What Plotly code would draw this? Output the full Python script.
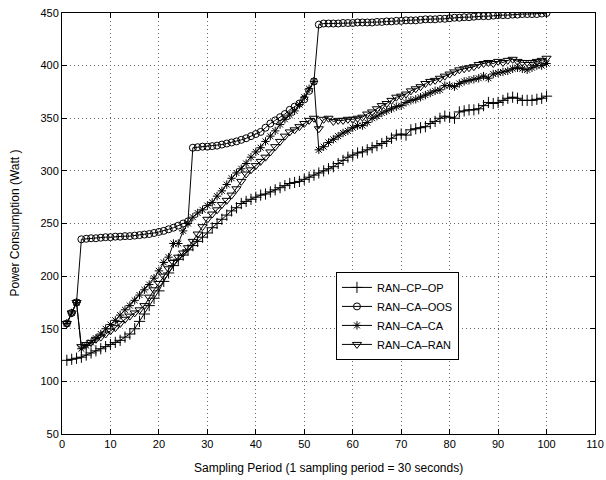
import plotly.graph_objects as go

periods = list(range(1, 101))

ran_cp_op = [120, 121, 122, 123, 125, 127, 129, 131, 133, 135,
             137, 139, 142, 145, 150, 157, 164, 172, 179, 186,
             195, 203, 210, 216, 220, 225, 229, 233, 237, 241,
             246, 250, 254, 258, 262, 265, 269, 271, 273, 275,
             277, 278, 280, 282, 284, 286, 288, 289, 290, 292,
             294, 296, 298, 300, 302, 304, 307, 310, 313, 315,
             317, 318, 320, 322, 324, 326, 328, 331, 334, 335,
             334, 339, 340, 341, 342, 345, 347, 350, 352, 351,
             350, 356, 357, 358, 358, 359, 362, 365, 364, 365,
             367, 369, 370, 369, 367, 367, 367, 368, 369, 371]

ran_ca_oos = [155, 165, 175, 235, 235.5, 236, 236, 236.5, 237, 237,
              237.5, 237.5, 238, 238, 238.5, 239, 239.5, 240, 241, 242,
              243, 244.5, 246, 248, 250, 252, 322, 322.5, 323, 323,
              323.5, 324, 325, 326, 327, 328, 329.5, 331, 333, 335,
              337, 341, 345, 348, 351, 354, 358, 361, 364, 368,
              376, 385, 439, 440, 440, 440, 440, 440.5, 440.5, 440.5,
              441, 441, 441, 441, 441.5, 441.5, 442, 442, 442.5, 442.5,
              443, 443, 443, 443.5, 444, 444, 444, 444.5, 444.5, 445,
              445.5, 445.5, 446, 446, 446.5, 447, 447, 447, 447.5, 448,
              448, 448, 448.5, 448.5, 449, 449, 449, 449, 449.5, 450]

ran_ca_ca = [155, 165, 175, 131, 134, 137, 141, 145, 150, 154,
             158, 163, 168, 172, 177, 182, 187, 192, 198, 205,
             213, 218, 231, 231, 243, 250, 256, 260, 263, 267,
             270, 276, 281, 287, 293, 298, 302, 307, 313, 318,
             322, 328, 333, 338, 344, 349, 353, 357, 363, 370,
             378, 385, 320, 323, 327, 330, 333, 336, 338, 341,
             343, 343, 346, 350, 352, 355, 357, 359, 361, 362,
             365, 367, 368, 370, 372, 374, 376, 377, 381, 381,
             380, 383, 385, 386, 387, 388, 390, 388, 392, 393,
             394, 395, 397, 398, 397, 396, 398, 400, 400, 402]

ran_ca_ran = [155, 165, 175, 133, 135, 137, 140, 142, 145, 148,
              151, 155, 159, 162, 165, 168, 172, 180, 187, 193,
              200, 207, 213, 218, 222, 227, 233, 240, 247, 254,
              259, 263, 268, 272, 277, 283, 290, 297, 301, 305,
              309, 313, 318, 323, 328, 333, 337, 339, 342, 345,
              348, 350, 340, 349, 350, 347, 348, 348, 349, 349,
              350, 351, 354, 356, 359, 362, 364, 367, 370, 371,
              373, 376, 378, 380, 383, 385, 386, 388, 390, 392,
              394, 396, 397, 398, 399, 401, 402, 403, 402, 404,
              403, 405, 406, 404, 403, 403, 403, 404, 405, 407]

series = [
    ("RAN\u2013CP\u2013OP", ran_cp_op, "cross-thin-open", 8),
    ("RAN\u2013CA\u2013OOS", ran_ca_oos, "circle-open", 7),
    ("RAN\u2013CA\u2013CA", ran_ca_ca, "asterisk-open", 7),
    ("RAN\u2013CA\u2013RAN", ran_ca_ran, "triangle-down-open", 8),
]

x_ticks = list(range(0, 111, 10))
y_ticks = list(range(50, 451, 50))
x_title = "Sampling Period (1 sampling period = 30 seconds)"
y_title = "Power Consumption (Watt )"

fig = go.Figure()
for name, vals, sym, sz in series:
    fig.add_trace(go.Scatter(
        x=periods, y=vals, name=name, mode="lines+markers",
        line=dict(color="black", width=1),
        marker=dict(symbol=sym, size=sz, color="black",
                    line=dict(color="black", width=1)),
    ))

axis_common = dict(
    showline=True, linecolor="black", linewidth=1, mirror="ticks",
    ticks="inside", ticklen=5, tickcolor="black", tickwidth=1,
    showgrid=True, gridcolor="#666666", griddash="1px,3px", gridwidth=1,
    zeroline=False, tickfont=dict(size=11, color="black"), automargin=False,
)

fig.update_xaxes(range=[0, 110], tickvals=x_ticks, **axis_common)
fig.update_yaxes(range=[50, 450], tickvals=y_ticks, **axis_common)

fig.add_annotation(text=x_title, xref="paper", yref="paper", x=0.5, y=0,
                   yshift=-34, xanchor="center", yanchor="middle",
                   showarrow=False, font=dict(size=12, color="black"))
fig.add_annotation(text=y_title, xref="paper", yref="paper", x=0, y=0.5,
                   xshift=-48, xanchor="center", yanchor="middle", textangle=-90,
                   showarrow=False, font=dict(size=12, color="black"))

fig.update_layout(
    width=606, height=480,
    margin=dict(l=62, r=11, t=13, b=46),
    paper_bgcolor="white", plot_bgcolor="white",
    font=dict(family="Liberation Sans, Arial, sans-serif", color="black"),
    legend=dict(x=0.514, y=0.385, xanchor="left", yanchor="top",
                bgcolor="white", bordercolor="black", borderwidth=1,
                font=dict(size=11), tracegroupgap=0, itemwidth=30,
                entrywidth=88),
    showlegend=True,
)

fig.write_html("out.html")
